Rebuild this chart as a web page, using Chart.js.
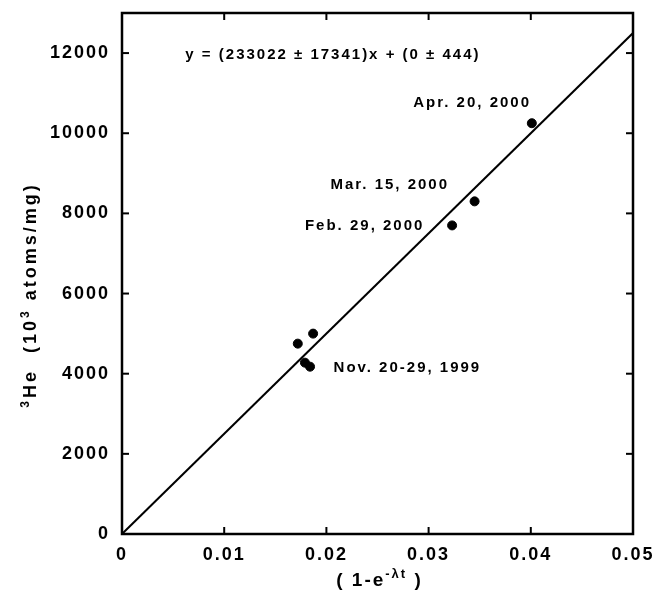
<!DOCTYPE html>
<html><head><meta charset="utf-8">
<script src="https://cdn.jsdelivr.net/npm/chart.js@4/dist/chart.umd.min.js"></script>
<style>html,body{margin:0;padding:0;background:#fff}</style>
</head><body>
<canvas id="c" width="655" height="602"></canvas>
<script>
// ---- data ----
const pointX = [0.0172, 0.0187, 0.0179, 0.0184, 0.0323, 0.0345, 0.0401];
const pointY = [4750, 5000, 4275, 4175, 7700, 8300, 10250];
const fitX = [0, 0.05];
const fitY = [0, 12500];
const xTickLabels = ['0', '0.01', '0.02', '0.03', '0.04', '0.05'];
const yTickLabels = ['0', '2000', '4000', '6000', '8000', '10000', '12000'];
const noteTexts = ['y = (233022 \u00B1 17341)x + (0 \u00B1 444)', 'Apr. 20, 2000', 'Mar. 15, 2000', 'Feb. 29, 2000', 'Nov. 20-29, 1999'];
const noteX = [0.0062, 0.0285, 0.0204, 0.0179, 0.0207];
const noteY = [11950, 10750, 8700, 7700, 4150];

const FONT = '"Liberation Sans", Arial, sans-serif';

function drawRich(ctx, parts, cx, cy, size) {
  const supSize = Math.round(size * 0.68);
  let total = 0;
  parts.forEach(p => {
    ctx.font = 'bold ' + (p.sup ? supSize : size) + 'px ' + FONT;
    p.w = ctx.measureText(p.t).width;
    total += p.w;
  });
  let x = cx - total / 2;
  ctx.textAlign = 'left';
  ctx.textBaseline = 'alphabetic';
  parts.forEach(p => {
    ctx.font = 'bold ' + (p.sup ? supSize : size) + 'px ' + FONT;
    ctx.fillText(p.t, x, cy + size * 0.36 - (p.sup ? size * 0.42 : 0));
    x += p.w;
  });
}

const framePlugin = {
  id: 'frame',
  beforeDraw(chart) { chart.ctx.letterSpacing = '2px'; },
  afterDraw(chart) {
    const { ctx, chartArea: a, scales: { x, y } } = chart;
    ctx.save();
    ctx.strokeStyle = '#000';
    ctx.fillStyle = '#000';
    ctx.lineWidth = 2.5;
    ctx.strokeRect(a.left, a.top, a.right - a.left, a.bottom - a.top);
    ctx.lineWidth = 2;
    const L = 7;
    const seg = (x1, y1, x2, y2) => { ctx.beginPath(); ctx.moveTo(x1, y1); ctx.lineTo(x2, y2); ctx.stroke(); };
    x.ticks.forEach(t => {
      if (t.value <= x.min || t.value >= x.max) return;
      const px = x.getPixelForValue(t.value);
      seg(px, a.bottom, px, a.bottom - L);
      seg(px, a.top, px, a.top + L);
    });
    y.ticks.forEach(t => {
      if (t.value <= y.min || t.value >= y.max) return;
      const py = y.getPixelForValue(t.value);
      seg(a.left, py, a.left + L, py);
      seg(a.right, py, a.right - L, py);
    });
    // annotations
    ctx.letterSpacing = '2px';
    ctx.font = 'bold 15px ' + FONT;
    ctx.textAlign = 'left';
    ctx.textBaseline = 'middle';
    noteTexts.forEach((t, i) => {
      ctx.fillText(t, x.getPixelForValue(noteX[i]), y.getPixelForValue(noteY[i]));
    });
    // x title
    ctx.letterSpacing = '2px';
    drawRich(ctx, [{ t: '( 1-e' }, { t: '-\u03BBt', sup: true }, { t: ' )' }], (a.left + a.right) / 2 + 2, 579, 19);
    // y title
    ctx.save();
    ctx.translate(30, 295);
    ctx.rotate(-Math.PI / 2);
    ctx.letterSpacing = '3px';
    drawRich(ctx, [{ t: '3', sup: true }, { t: 'He  (10' }, { t: '3', sup: true }, { t: ' atoms/mg)' }], 0, 0, 18);
    ctx.restore();
    ctx.restore();
  }
};

new Chart(document.getElementById('c'), {
  data: {
    datasets: [
      {
        type: 'line',
        data: fitX.map((v, i) => ({ x: v, y: fitY[i] })),
        borderColor: '#000',
        borderWidth: 2,
        pointRadius: 0,
        fill: false
      },
      {
        type: 'scatter',
        data: pointX.map((v, i) => ({ x: v, y: pointY[i] })),
        backgroundColor: '#000',
        borderColor: '#000',
        pointRadius: 4.5,
        pointHoverRadius: 4.5
      }
    ]
  },
  options: {
    responsive: false,
    animation: false,
    layout: { padding: { top: 13, right: 22, left: 0, bottom: 0 } },
    plugins: { legend: { display: false }, tooltip: { enabled: false } },
    scales: {
      x: {
        type: 'linear',
        min: 0, max: 0.05,
        bounds: 'data',
        grid: { display: false, drawTicks: false },
        border: { display: false },
        ticks: {
          padding: 10,
          color: '#000',
          maxRotation: 0,
          autoSkip: false,
          font: { family: FONT, size: 18, weight: 'bold' },
          callback: (v, i) => xTickLabels[i]
        },
        afterBuildTicks(s) { s.ticks = xTickLabels.map(l => ({ value: Number(l) })); },
        afterFit(s) { s.height = 68; s.paddingLeft = 0; s.paddingRight = 0; }
      },
      y: {
        type: 'linear',
        min: 0, max: 13000,
        bounds: 'data',
        grid: { display: false, drawTicks: false },
        border: { display: false },
        ticks: {
          padding: 12,
          color: '#000',
          autoSkip: false,
          font: { family: FONT, size: 18, weight: 'bold' },
          callback: (v, i) => yTickLabels[i]
        },
        afterBuildTicks(s) { s.ticks = yTickLabels.map(l => ({ value: Number(l) })); },
        afterFit(s) { s.width = 122; s.paddingTop = 0; s.paddingBottom = 0; }
      }
    }
  },
  plugins: [framePlugin]
});
</script>
</body></html>
